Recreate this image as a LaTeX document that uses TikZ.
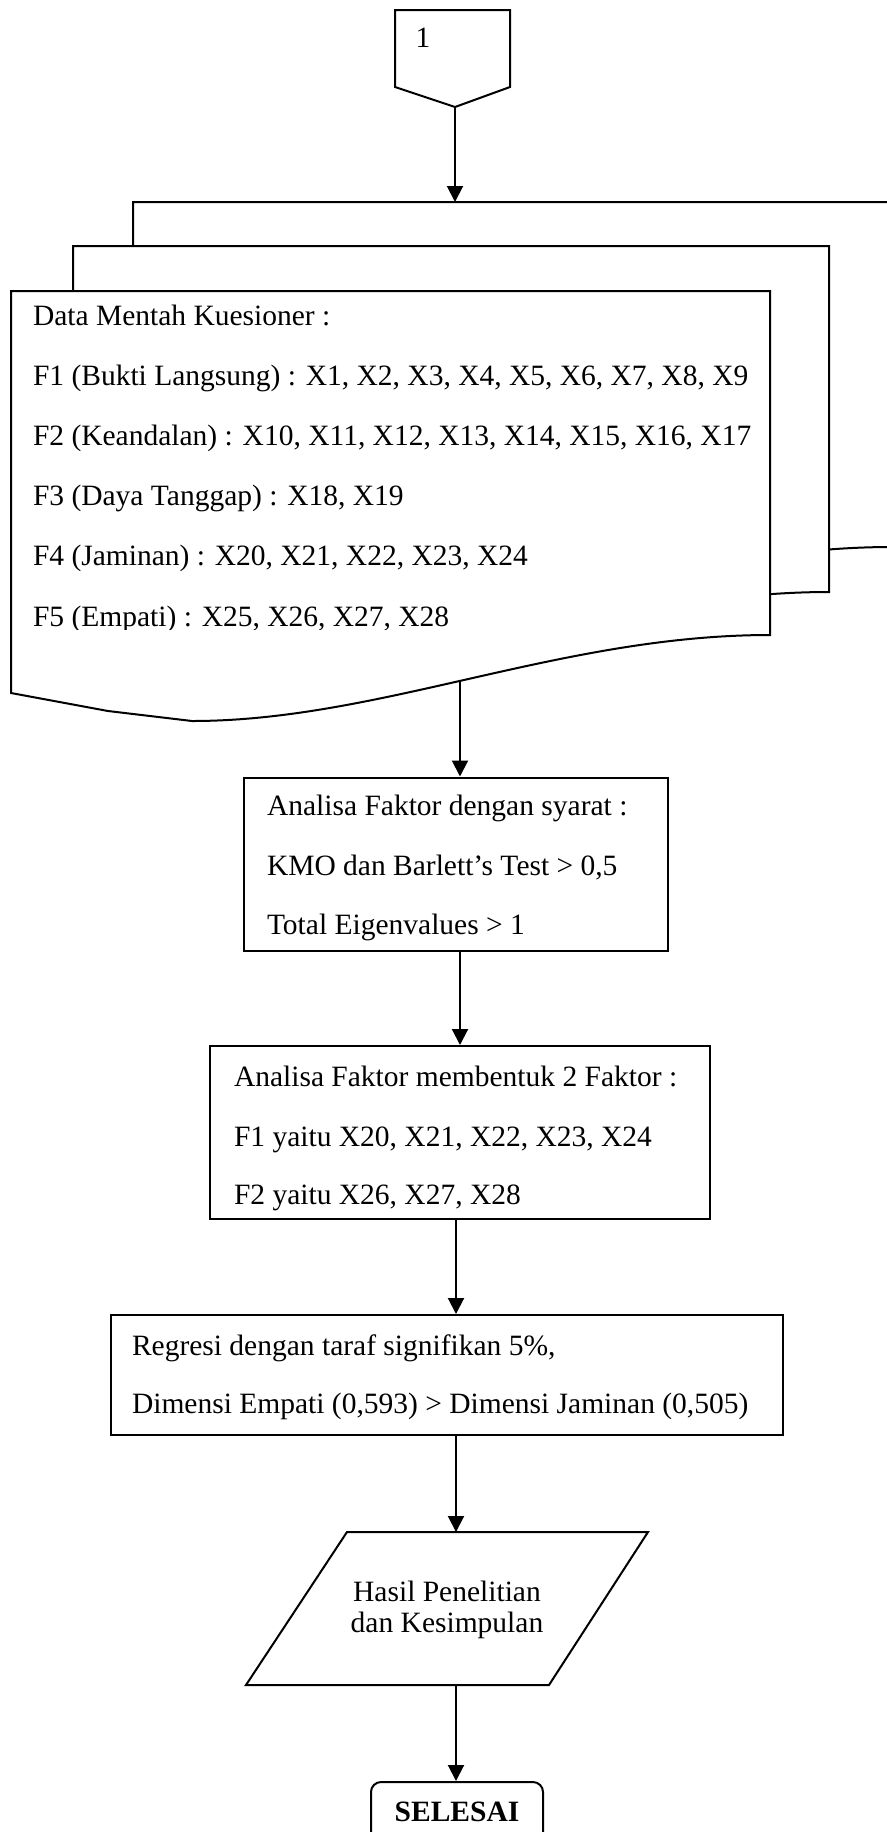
\documentclass[tikz,border=0pt]{standalone}
\usepackage{fontspec}
\setmainfont{Liberation Serif}
\usetikzlibrary{arrows.meta,calc}
\newcommand\myfs{\fontsize{14.75}{29.5}\selectfont}
\begin{document}
\begin{tikzpicture}[x=0.5pt,y=-0.5pt, line width=1pt,
  arr/.style={-{Triangle[length=8pt,width=8pt]}},
  page/.style={draw, fill=white, line join=miter},
  txt/.style={font=\myfs, inner sep=0pt, anchor=base west},
  ctxt/.style={font=\myfs, inner sep=0pt, anchor=base},
  box/.style={draw, rectangle, inner sep=0pt}]
\useasboundingbox (0,0) rectangle (887,1832);
\clip (0,0) rectangle (887,1832);

% off-page connector
\draw (395,10) -- (510,10) -- (510,87) -- (455,107) -- (395,87) -- cycle;
\node[font=\myfs, inner sep=0pt] (c1) at (423,38) {1};
\coordinate (c1tip) at (455,107);

% stacked pages (multi-document)
\draw[page] (133,202) -- (892,202) -- (892,547) .. controls (682,547) and (502,633) .. (314,633) -- (230,623) -- (133,605) -- cycle;
\draw[page] (73,246) -- (829,246) -- (829,592) .. controls (619,592) and (439,678) .. (251,678) -- (167,668) -- (73,650) -- cycle;
\draw[page] (11,291) -- (770,291) -- (770,635) .. controls (560,635) and (380,721) .. (192,721) -- (108,711) -- (11,693) -- cycle;
\coordinate (doctop) at (455,202);
\coordinate (docbot) at (460,680);

\node[txt] (d0) at (32,325) {Data Mentah Kuesioner :};
\node[txt] (d1) at (32,385.2) {F1 (Bukti Langsung) : X1, X2, X3, X4, X5, X6, X7, X8, X9};
\node[txt] (d2) at (32,445.4) {F2 (Keandalan) : X10, X11, X12, X13, X14, X15, X16, X17};
\node[txt] (d3) at (32,505.6) {F3 (Daya Tanggap) : X18, X19};
\node[txt] (d4) at (32,565.8) {F4 (Jaminan) : X20, X21, X22, X23, X24};
\begin{scope}
\clip (0,0) rectangle (887,629);
\node[txt] (d5) at (32,626) {F5 (Empati) : X25, X26, X27, X28};
\end{scope}

% process boxes
\node[box, minimum width=212pt, minimum height=86.5pt] (b2) at (455.5,864) {};
\node[txt] (b2a) at (266,815) {Analisa Faktor dengan syarat :};
\node[txt] (b2b) at (266,875) {KMO dan Barlett’s Test > 0,5};
\node[txt] (b2c) at (266,934) {Total Eigenvalues > 1};

\node[box, minimum width=250pt, minimum height=86.5pt] (b3) at (460,1132.5) {};
\node[txt] (b3a) at (233,1086) {Analisa Faktor membentuk 2 Faktor :};
\node[txt] (b3b) at (233,1146) {F1 yaitu X20, X21, X22, X23, X24};
\node[txt] (b3c) at (233,1204) {F2 yaitu X26, X27, X28};

\node[box, minimum width=336pt, minimum height=60pt] (b4) at (447,1375) {};
\node[txt] (b4a) at (131,1355) {Regresi dengan taraf signifikan 5\%,};
\node[txt] (b4b) at (131,1413) {Dimensi Empati (0,593) > Dimensi Jaminan (0,505)};

% parallelogram (data)
\draw (347,1532) -- (648,1532) -- (549,1685) -- (246,1685) -- cycle;
\coordinate (partop) at (456,1532);
\coordinate (parbot) at (456,1685);
\node[ctxt] (p1) at (447,1601) {Hasil Penelitian};
\node[ctxt] (p2) at (447,1632) {dan Kesimpulan};

% terminator
\node[draw, rounded corners=5pt, font=\myfs\bfseries, minimum width=86pt, minimum height=30pt, inner sep=0pt] (end) at (457,1812) {SELESAI};

% connectors
\draw[arr] (c1tip) -- (doctop);
\draw[arr] (docbot) -- ($(b2.north)+(4.5,0)$);
\draw[arr] ($(b2.south)+(4.5,0)$) -- (b3.north);
\draw[arr] ($(b3.south)+(-4,0)$) -- ($(b4.north)+(9,0)$);
\draw[arr] ($(b4.south)+(9,0)$) -- (partop);
\draw[arr] (parbot) -- ($(end.north)+(-1,0)$);
\end{tikzpicture}
\end{document}
